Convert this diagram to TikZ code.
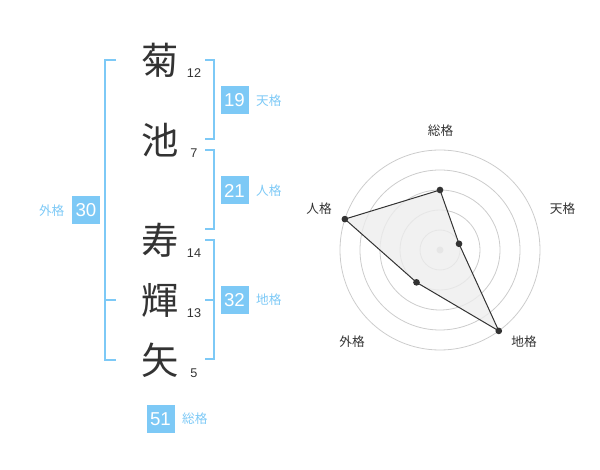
\documentclass[tikz,border=0pt]{standalone}
\usepackage{fontspec}
\setmainfont{Liberation Sans}
\newfontfamily\jp{Noto Sans CJK JP}
\usetikzlibrary{positioning}
\definecolor{inkgray}{RGB}{51,51,51}
\definecolor{skyblue}{RGB}{125,201,246}
\definecolor{ringgray}{RGB}{204,204,204}
\tikzset{every picture/.style={line width=0.75pt}}

\begin{document}
\begin{tikzpicture}[x=0.75pt,y=0.75pt,yscale=-1,xscale=1,
  kanji/.style={text=inkgray,font=\jp\fontsize{28}{30}\selectfont,inner sep=0pt},
  strokes/.style={text=inkgray,font=\fontsize{9.5}{11}\selectfont,inner sep=0pt},
  scorebox/.style={fill=skyblue,text=white,minimum width=21pt,minimum height=21pt,inner sep=0pt,font=\fontsize{14}{16}\selectfont},
  kaku/.style={text=skyblue,font=\jp\fontsize{9.5}{11}\selectfont,inner sep=0pt},
  bracket/.style={draw=skyblue,line width=1.5pt},
  axislabel/.style={text=inkgray,font=\jp\fontsize{9.5}{11}\selectfont,inner sep=0pt},
  ring/.style={draw=ringgray,line width=0.6pt},
  dot/.style={circle,fill=inkgray,inner sep=0pt,minimum size=5pt}]
\path (0,0) rectangle (600,470);
%Name characters
\node [kanji] (c1) at (160,60) {菊};
\node [kanji] (c2) at (160,140) {池};
\node [kanji] (c3) at (160,240) {寿};
\node [kanji] (c4) at (160,300) {輝};
\node [kanji] (c5) at (160,360) {矢};
% Stroke counts
\node [strokes] (n1) at (194,73) {12};
\node [strokes] (n2) at (194,153) {7};
\node [strokes] (n3) at (194,253) {14};
\node [strokes] (n4) at (194,313) {13};
\node [strokes] (n5) at (194,373) {5};
%Shape: Brackets
\draw [bracket] (205,60) -- (214,60) -- (214,139) -- (205,139) ;
\draw [bracket] (205,150) -- (214,150) -- (214,229) -- (205,229) ;
\draw [bracket] (205,240) -- (214,240) -- (214,359) -- (205,359) ;
\draw [bracket] (205,300) -- (214,300) ;
\draw [bracket] (116,60) -- (105,60) -- (105,360) -- (116,360) ;
\draw [bracket] (105,300) -- (116,300) ;
% Scores
\node [scorebox] (ten) at (234.5,100.5) {19};
\node [kaku, right=5pt of ten] (tenlabel) {天格};
\node [scorebox] (jin) at (234.5,190.5) {21};
\node [kaku, right=5pt of jin] (jinlabel) {人格};
\node [scorebox] (chi) at (234.5,300) {32};
\node [kaku, right=5pt of chi] (chilabel) {地格};
\node [scorebox] (gai) at (86,210.5) {30};
\node [kaku, left=5pt of gai] (gailabel) {外格};
\node [scorebox] (sou) at (160.5,419) {51};
\node [kaku, right=5pt of sou] (soulabel) {総格};
%Shape: Radar rings
\foreach \r in {20,40,60,80,100}
  \draw [ring] (440,250) circle [radius=\r];
\fill [ringgray] (440,250) circle [radius=3.5];
% Radar values
\coordinate (vsou) at (440,190);
\coordinate (vten) at (459.02,243.82);
\coordinate (vchi) at (498.78,330.90);
\coordinate (vgai) at (416.49,282.36);
\coordinate (vjin) at (344.89,219.10);
\draw [inkgray, fill=black!7, fill opacity=0.8] (vsou) -- (vten) -- (vchi) -- (vgai) -- (vjin) -- cycle ;
\foreach \v in {vsou,vten,vchi,vgai,vjin}
  \node [dot] at (\v) {};
% Axis labels
\node [axislabel] (asou) at (440.5,130.5) {総格};
\node [axislabel] (aten) at (562.5,209) {天格};
\node [axislabel] (ajin) at (319,209) {人格};
\node [axislabel] (achi) at (524,342) {地格};
\node [axislabel] (agai) at (352,342) {外格};
\end{tikzpicture}
\end{document}
